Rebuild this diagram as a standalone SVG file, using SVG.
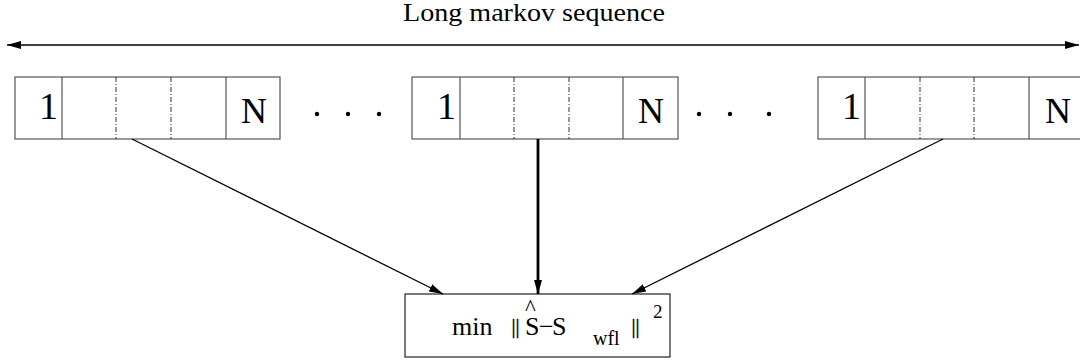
<svg xmlns="http://www.w3.org/2000/svg" width="1080" height="360" viewBox="0 0 1080 360">
  <style>
    text { font-family: "Liberation Serif", "Times New Roman", serif; fill: #000; }
    .frame { fill: #fff; stroke: #555; stroke-width: 1.2; }
    .div { stroke: #555; stroke-width: 1.2; }
    .dd { stroke: #333; stroke-width: 1; stroke-dasharray: 5 2 1 2; }
    .one { font-size: 38px; }
    .cell { font-size: 36px; }
    .dot { fill: #000; }
    .edge { stroke: #000; stroke-width: 1.3; fill: none; }
    .thick { stroke-width: 2.8; }
    .bars { font-size: 20px; stroke: #000; stroke-width: 0.4; }
  </style>
  <defs>
    <marker id="head" markerUnits="userSpaceOnUse" markerWidth="16" markerHeight="10" refX="14" refY="5" orient="auto">
      <path d="M0,1 L14,5 L0,9 Z" fill="#000"/>
    </marker>
    <marker id="headBack" markerUnits="userSpaceOnUse" markerWidth="16" markerHeight="10" refX="14" refY="5" orient="auto-start-reverse">
      <path d="M0,1 L14,5 L0,9 Z" fill="#000"/>
    </marker>
  </defs>

  <!-- span of the whole sequence -->
  <g id="span">
    <text x="403" y="21" font-size="25" textLength="262" lengthAdjust="spacingAndGlyphs">Long markov sequence</text>
    <line x1="7" y1="45" x2="1079" y2="45" class="edge" marker-start="url(#headBack)" marker-end="url(#head)"/>
  </g>

  <!-- block 1 -->
  <g id="block1">
    <rect x="15" y="77" width="265" height="62" class="frame"/>
    <line x1="62" y1="77" x2="62" y2="139" class="div"/>
    <line x1="116" y1="77" x2="116" y2="139" class="dd"/>
    <line x1="171" y1="77" x2="171" y2="139" class="dd"/>
    <line x1="226" y1="77" x2="226" y2="139" class="div"/>
    <text x="39" y="119" class="one">1</text>
    <text x="241" y="123" class="cell">N</text>
  </g>

  <g id="dots1">
    <circle cx="317" cy="114" r="2.2" class="dot"/>
    <circle cx="348" cy="114" r="2.2" class="dot"/>
    <circle cx="379" cy="114" r="2.2" class="dot"/>
  </g>

  <!-- block 2 -->
  <g id="block2">
    <rect x="412" y="77" width="266" height="62" class="frame"/>
    <line x1="460" y1="77" x2="460" y2="139" class="div"/>
    <line x1="514" y1="77" x2="514" y2="139" class="dd"/>
    <line x1="569" y1="77" x2="569" y2="139" class="dd"/>
    <line x1="623" y1="77" x2="623" y2="139" class="div"/>
    <text x="437" y="119" class="one">1</text>
    <text x="638" y="123" class="cell">N</text>
  </g>

  <g id="dots2">
    <circle cx="699" cy="114" r="2.2" class="dot"/>
    <circle cx="730" cy="114" r="2.2" class="dot"/>
    <circle cx="769" cy="114" r="2.2" class="dot"/>
  </g>

  <!-- block 3 -->
  <g id="block3">
    <rect x="818" y="77" width="266" height="62" class="frame"/>
    <line x1="865" y1="77" x2="865" y2="139" class="div"/>
    <line x1="920" y1="77" x2="920" y2="139" class="dd"/>
    <line x1="974" y1="77" x2="974" y2="139" class="dd"/>
    <line x1="1029" y1="77" x2="1029" y2="139" class="div"/>
    <text x="842" y="119" class="one">1</text>
    <text x="1045" y="123" class="cell">N</text>
  </g>

  <!-- objective: min ||Ŝ − S_wfl||² -->
  <g id="objective">
    <rect x="405" y="294" width="265" height="63" fill="#fff" stroke="#222" stroke-width="1.2"/>
    <text y="335" font-size="26"><tspan x="452">min</tspan><tspan x="511.5" y="333" class="bars">||</tspan><tspan x="525" y="335">S</tspan><tspan x="525" y="315" font-size="23">^</tspan><tspan x="539" y="335">−</tspan><tspan x="552" y="335">S</tspan><tspan x="593" y="345" font-size="20">wfl</tspan><tspan x="631.5" y="333" class="bars">||</tspan><tspan x="653" y="318" font-size="19">2</tspan></text>
  </g>

  <!-- connectors -->
  <g id="connectors">
    <line x1="132" y1="139" x2="443" y2="294" class="edge" marker-end="url(#head)"/>
    <line x1="538" y1="139" x2="538" y2="294" class="edge thick" marker-end="url(#head)"/>
    <line x1="943" y1="139" x2="632" y2="294" class="edge" marker-end="url(#head)"/>
  </g>
</svg>
